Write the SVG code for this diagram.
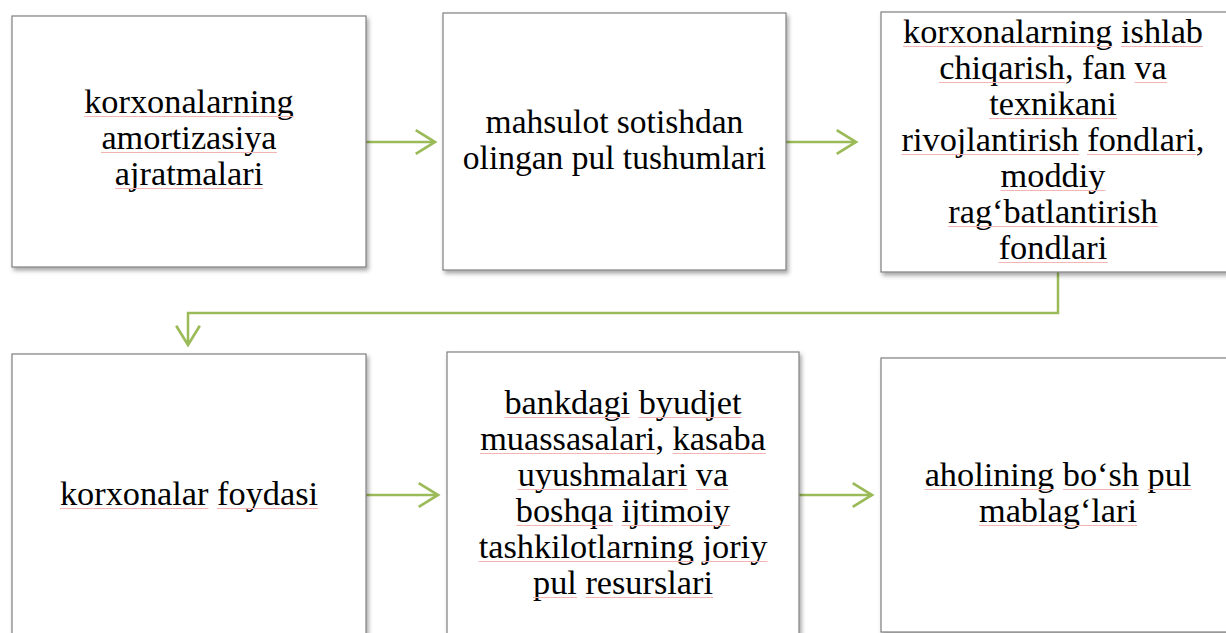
<svg xmlns="http://www.w3.org/2000/svg" width="1226" height="633" viewBox="0 0 1226 633">
<defs>
<filter id="sh" x="-10%" y="-10%" width="130%" height="130%">
<feDropShadow dx="2" dy="3" stdDeviation="2" flood-color="#000" flood-opacity="0.35"/>
</filter>
<marker id="ah" markerUnits="userSpaceOnUse" markerWidth="30" markerHeight="30" refX="0" refY="0" viewBox="-22 -14 26 28" orient="auto" overflow="visible">
<path d="M-18,-11 L0,0 L-18,11" fill="none" stroke="#9bbb59" stroke-width="2.5" stroke-linejoin="miter"/>
</marker>
</defs>
<style>
.box{fill:#fff;stroke:#7f7f7f;stroke-width:1.2;filter:url(#sh)}
.conn{fill:none;stroke:#9bbb59;stroke-width:2.5;marker-end:url(#ah)}
.sp{stroke:#f4b4b4;stroke-width:1;fill:none}
</style>
<rect width="1226" height="633" fill="#fff"/>
<g id="connectors">
<path class="conn" d="M366,142 H435"/>
<path class="conn" d="M786,142 H856"/>
<path class="conn" d="M1058,272 V313 H188 V345"/>
<path class="conn" d="M366,495 H438"/>
<path class="conn" d="M799,495 H872"/>
</g>
<g font-family="Liberation Serif, Times New Roman, serif" font-size="34.3" text-anchor="middle" fill="#000">
<g id="n1">
<rect class="box" x="12" y="16" width="354" height="251"/>
<text x="189" y="113">korxonalarning</text>
<text x="189" y="149">amortizasiya</text>
<text x="189" y="185">ajratmalari</text>
<path class="sp" d="M84,116.5H294M101,152.5H277M115,188.5H263"/>
</g>
<g id="n2">
<rect class="box" x="443" y="13" width="343" height="257"/>
<text x="614.5" y="133" font-size="33.5">mahsulot sotishdan</text>
<text x="614.5" y="169" font-size="33.5">olingan pul tushumlari</text>
</g>
<g id="n3">
<rect class="box" x="881" y="12" width="360" height="260"/>
<text x="1053" y="43">korxonalarning ishlab</text>
<text x="1053" y="79">chiqarish, fan va</text>
<text x="1053" y="115">texnikani</text>
<text x="1053" y="151">rivojlantirish fondlari,</text>
<text x="1053" y="187">moddiy</text>
<text x="1053" y="223">rag‘batlantirish</text>
<text x="1053" y="259">fondlari</text>
<path class="sp" d="M903,46.5H1112.5M1121,46.5H1203M939,82.5H1065M1134.5,82.5H1167M989,118.5H1117M901.5,154.5H1079M1087,154.5H1196M1000.5,190.5H1105.5M948,226.5H1158M998.5,262.5H1107.5"/>
</g>
<g id="n4">
<rect class="box" x="12" y="354" width="354" height="300"/>
<text x="189" y="505">korxonalar foydasi</text>
<path class="sp" d="M60,508.5H208.5M217,508.5H318"/>
</g>
<g id="n5">
<rect class="box" x="447" y="352" width="352" height="300"/>
<text x="623" y="414">bankdagi byudjet</text>
<text x="623" y="450">muassasalari, kasaba</text>
<text x="623" y="486">uyushmalari va</text>
<text x="623" y="522">boshqa ijtimoiy</text>
<text x="623" y="558">tashkilotlarning joriy</text>
<text x="623" y="594">pul resurslari</text>
<path class="sp" d="M504.5,417.5H630M638.5,417.5H741.5M480,453.5H655.5M672.5,453.5H766M517.5,489.5H687.5M696,489.5H728.5M516,525.5H613M621.5,525.5H730M478.5,561.5H694M702.5,561.5H767.5M533,597.5H577M585.5,597.5H713"/>
</g>
<g id="n6">
<rect class="box" x="881" y="358" width="360" height="274"/>
<text x="1058" y="486">aholining bo‘sh pul</text>
<text x="1058" y="522">mablag‘lari</text>
<path class="sp" d="M924.5,489.5H1054M1063,489.5H1139M1147.5,489.5H1191.5M979,525.5H1137"/>
</g>
</g>
</svg>
